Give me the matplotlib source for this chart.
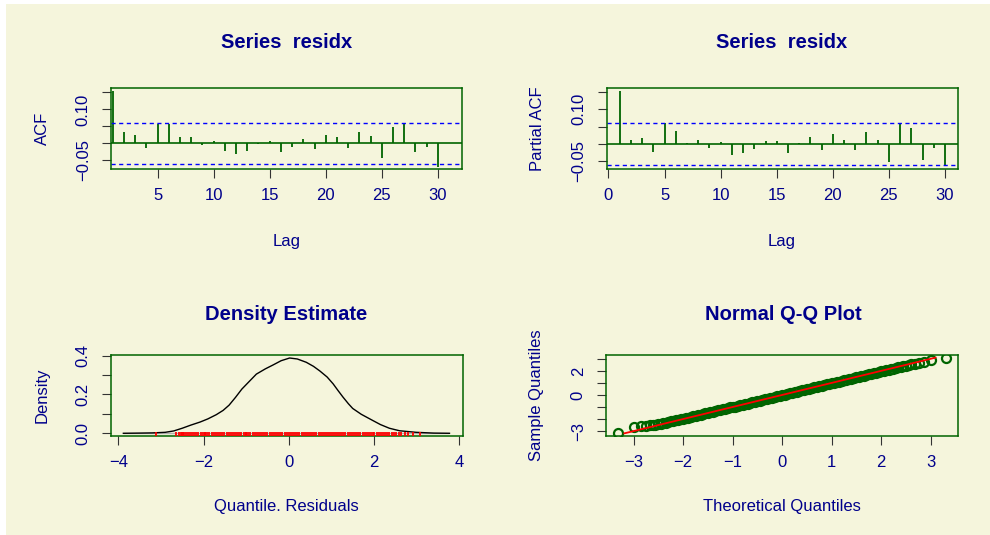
import matplotlib.pyplot as plt
from matplotlib.patches import Rectangle

plt.rcParams['font.family'] = ['Liberation Sans', 'DejaVu Sans']

# ---- data ----
acf_lags = list(range(1, 31))
acf_vals = [0.154, 0.034, 0.025, -0.015, 0.057, 0.056, 0.018, 0.019, -0.005, 0.006,
            -0.024, -0.031, -0.022, -0.003, 0.007, -0.025, -0.010, 0.014, -0.018, 0.025,
            0.019, -0.014, 0.034, 0.023, -0.042, 0.047, 0.059, -0.026, -0.010, -0.071]
pacf_vals = [0.153, 0.011, 0.017, -0.023, 0.060, 0.038, 0.003, 0.011, -0.011, 0.004,
             -0.033, -0.028, -0.016, 0.007, 0.007, -0.027, 0.003, 0.020, -0.019, 0.028,
             0.012, -0.017, 0.034, 0.012, -0.052, 0.056, 0.046, -0.047, -0.011, -0.066]
ci_acf = 0.0606
ci_pacf = 0.0606

dens_x = [-3.88, -3.50, -3.20, -2.90, -2.70, -2.50, -2.30, -2.08, -1.90, -1.70,
          -1.54, -1.40, -1.25, -1.10, -0.95, -0.76, -0.55, -0.37, -0.18, 0.02,
          0.20, 0.41, 0.58, 0.73, 0.90, 1.04, 1.15, 1.27, 1.40, 1.50,
          1.70, 1.97, 2.15, 2.36, 2.60, 2.99, 3.40, 3.77]
dens_y = [0.000, 0.001, 0.002, 0.005, 0.012, 0.026, 0.042, 0.058, 0.074, 0.096,
          0.118, 0.145, 0.185, 0.228, 0.262, 0.305, 0.332, 0.352, 0.374, 0.388,
          0.383, 0.366, 0.345, 0.321, 0.290, 0.255, 0.222, 0.187, 0.152, 0.128,
          0.098, 0.066, 0.045, 0.026, 0.013, 0.005, 0.001, 0.000]

# theoretical quantiles / sorted residuals
qq_theo = [-3.32, -3.00, -2.86, -2.76, -2.68, -2.61, -2.56,
           -2.50, -2.45, -2.40, -2.35, -2.30, -2.25, -2.20, -2.15, -2.10, -2.05,
           -2.00, -1.95, -1.90, -1.85, -1.80, -1.75, -1.70, -1.65, -1.60, -1.55,
           -1.50, -1.45, -1.40, -1.35, -1.30, -1.25, -1.20, -1.15, -1.10, -1.05,
           -1.00, -0.95, -0.90, -0.85, -0.80, -0.75, -0.70, -0.65, -0.60, -0.55,
           -0.50, -0.45, -0.40, -0.35, -0.30, -0.25, -0.20, -0.15, -0.10, -0.05,
           0.00, 0.05, 0.10, 0.15, 0.20, 0.25, 0.30, 0.35, 0.40, 0.45,
           0.50, 0.55, 0.60, 0.65, 0.70, 0.75, 0.80, 0.85, 0.90, 0.95,
           1.00, 1.05, 1.10, 1.15, 1.20, 1.25, 1.30, 1.35, 1.40, 1.45,
           1.50, 1.55, 1.60, 1.65, 1.70, 1.75, 1.80, 1.85, 1.90, 1.95,
           2.00, 2.05, 2.10, 2.15, 2.20, 2.25, 2.30, 2.35, 2.40, 2.45, 2.50,
           2.56, 2.61, 2.68, 2.76, 2.86, 3.00, 3.31]
qq_sample = [-3.12, -2.64, -2.58, -2.53, -2.51, -2.48, -2.45,
             -2.42, -2.37, -2.32, -2.27, -2.22, -2.17, -2.12, -2.07, -2.02, -1.97,
             -1.96, -1.91, -1.86, -1.81, -1.76, -1.71, -1.66, -1.61, -1.56, -1.51,
             -1.46, -1.41, -1.36, -1.31, -1.26, -1.21, -1.16, -1.11, -1.06, -1.01,
             -1.00, -0.95, -0.90, -0.85, -0.80, -0.75, -0.70, -0.65, -0.60, -0.55,
             -0.50, -0.45, -0.40, -0.35, -0.30, -0.25, -0.20, -0.15, -0.10, -0.05,
             0.00, 0.05, 0.10, 0.15, 0.20, 0.25, 0.30, 0.35, 0.40, 0.45,
             0.50, 0.55, 0.60, 0.65, 0.70, 0.75, 0.80, 0.85, 0.90, 0.95,
             1.00, 1.03, 1.08, 1.13, 1.18, 1.23, 1.28, 1.33, 1.38, 1.43,
             1.48, 1.53, 1.58, 1.63, 1.68, 1.73, 1.78, 1.83, 1.88, 1.93,
             1.98, 2.01, 2.06, 2.11, 2.16, 2.21, 2.26, 2.31, 2.36, 2.41, 2.46,
             2.52, 2.58, 2.64, 2.72, 2.80, 2.92, 3.07]
qqline_x = [-3.19, 3.10]
qqline_y = [-3.17, 3.13]

# ---- styling ----
BG = '#F5F5DC'
TXT = '#00008B'
FRAME = '#006400'
W, H = 990, 535


def px(x, y):
    return x / W, 1 - y / H


def style_axes(ax):
    ax.set_facecolor(BG)
    for s in ax.spines.values():
        s.set_color(FRAME)
        s.set_linewidth(1.1)
    ax.tick_params(direction='out', length=6.5, width=0.8, color='#333333',
                   labelcolor=TXT, labelsize=12)
    ax.tick_params(axis='x', pad=7)
    ax.tick_params(axis='y', pad=8, labelrotation=90)
    for lab in ax.get_yticklabels():
        lab.set_va('center')


fig = plt.figure(figsize=(9.9, 5.35), dpi=100)
fig.patch.set_facecolor('white')
fig.patches.append(Rectangle((6 / W, 0), 1, 1 - 4 / H, transform=fig.transFigure,
                             facecolor=BG, edgecolor='none', zorder=-10))

ax1 = fig.add_axes([111 / W, 1 - 169 / H, 351 / W, 81 / H])
ax2 = fig.add_axes([606.7 / W, 1 - 169 / H, 351.3 / W, 81 / H])
ax3 = fig.add_axes([111 / W, 1 - 436.3 / H, 351.7 / W, 81.3 / H])
ax4 = fig.add_axes([606 / W, 1 - 436 / H, 352.3 / W, 81.5 / H])

# ACF
ax1.axhline(0, color=FRAME, lw=1.2, zorder=1)
ax1.vlines(acf_lags, 0, acf_vals, color=FRAME, lw=1.3, zorder=2)
ax1.axhline(ci_acf, color='blue', lw=1, ls=(0, (3, 2.5)))
ax1.axhline(-ci_acf, color='blue', lw=1, ls=(0, (3, 2.5)))
ax1.set_xlim(0.84, 32.16)
ax1.set_ylim(-0.0756, 0.163)
ax1.set_xticks([5, 10, 15, 20, 25, 30])
ax1.set_yticks([-0.05, 0, 0.05, 0.10, 0.15], ['\u22120.05', '', '', '0.10', ''])
style_axes(ax1)

# PACF
ax2.axhline(0, color=FRAME, lw=1.2, zorder=1)
ax2.vlines(acf_lags, 0, pacf_vals, color=FRAME, lw=1.3, zorder=2)
ax2.axhline(ci_pacf, color='blue', lw=1, ls=(0, (3, 2.5)))
ax2.axhline(-ci_pacf, color='blue', lw=1, ls=(0, (3, 2.5)))
ax2.set_xlim(-0.16, 31.16)
ax2.set_ylim(-0.0735, 0.162)
ax2.set_xticks([0, 5, 10, 15, 20, 25, 30])
ax2.set_yticks([-0.05, 0, 0.05, 0.10, 0.15], ['\u22120.05', '', '', '0.10', ''])
style_axes(ax2)

# Density
ax3.hlines(0, dens_x[0], dens_x[-1], color='#b0b0b0', lw=1, zorder=1)
ax3.plot(dens_x, dens_y, color='black', lw=1, zorder=2)
ax3.vlines(qq_sample, 0, 0.055, transform=ax3.get_xaxis_transform(),
           color='red', lw=1.3, zorder=3)
ax3.set_xlim(-4.17, 4.08)
ax3.set_ylim(-0.0155, 0.4035)
ax3.set_xticks([-4, -2, 0, 2, 4], ['\u22124', '\u22122', '0', '2', '4'])
ax3.set_yticks([0, 0.1, 0.2, 0.3, 0.4], ['0.0', '', '0.2', '', '0.4'])
style_axes(ax3)

# Normal Q-Q
ax4.plot(qq_theo, qq_sample, 'o', mfc='none', mec=FRAME, ms=6.5, mew=1.6, zorder=2)
ax4.plot(qqline_x, qqline_y, color='red', lw=1.3, zorder=3)
ax4.set_xlim(-3.56, 3.56)
ax4.set_ylim(-3.39, 3.39)
ax4.set_xticks([-3, -2, -1, 0, 1, 2, 3], ['\u22123', '\u22122', '\u22121', '0', '1', '2', '3'])
ax4.set_yticks([-3, -2, -1, 0, 1, 2, 3], ['\u22123', '', '', '0', '', '2', ''])
style_axes(ax4)

# titles and axis labels
title_kw = dict(color=TXT, fontsize=14.5, fontweight='bold', ha='center', va='center')
lab_kw = dict(color=TXT, fontsize=12, ha='center', va='center')
fig.text(*px(286.5, 42), 'Series  residx', **title_kw)
fig.text(*px(782, 42), 'Series  residx', **title_kw)
fig.text(*px(286.5, 314), 'Density Estimate', **title_kw)
fig.text(*px(783, 314), 'Normal Q-Q Plot', **title_kw)

fig.text(*px(286.5, 241), 'Lag', **lab_kw)
fig.text(*px(782, 241), 'Lag', **lab_kw)
fig.text(*px(286, 507), 'Quantile. Residuals', **lab_kw)
fig.text(*px(782, 507), 'Theoretical Quantiles', **lab_kw)
fig.text(*px(42, 128.5), 'ACF', rotation=90, **lab_kw)
fig.text(*px(537, 128.5), 'Partial ACF', rotation=90, **lab_kw)
fig.text(*px(42, 395.5), 'Density', rotation=90, **lab_kw)
fig.text(*px(537, 395), 'Sample Quantiles', rotation=90, **lab_kw)

fig.savefig('out.png', dpi=100, facecolor=fig.get_facecolor())
